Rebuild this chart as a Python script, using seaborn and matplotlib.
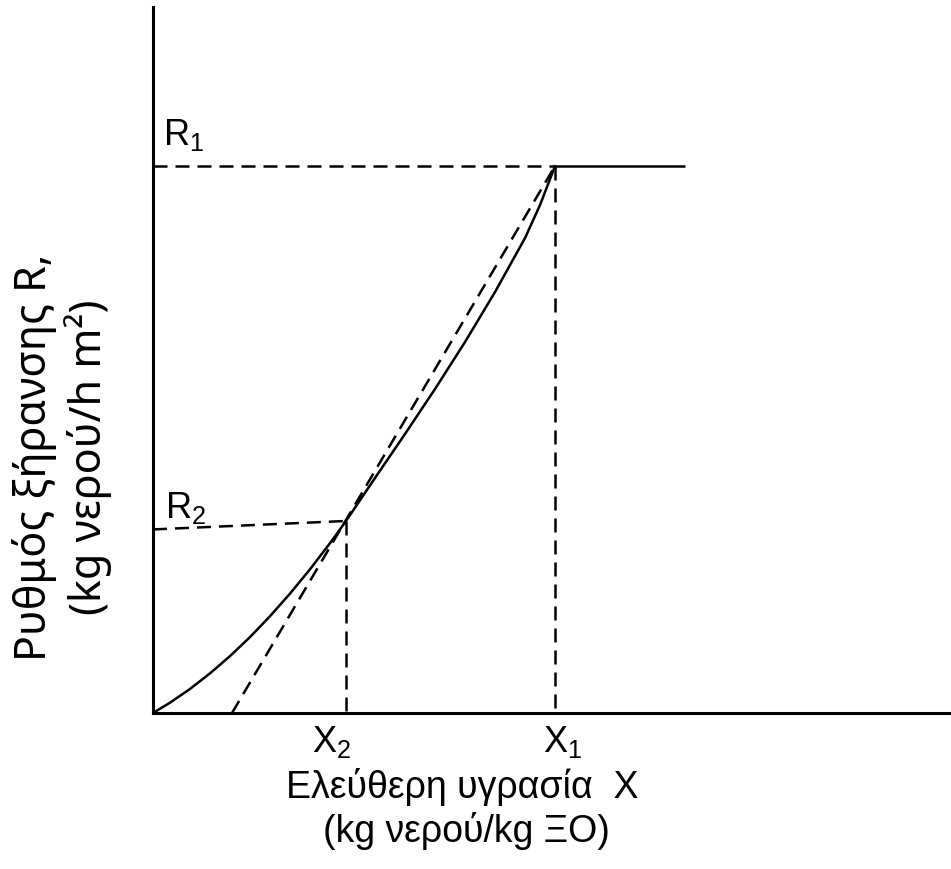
import matplotlib
matplotlib.use("Agg")
import matplotlib.pyplot as plt
import seaborn as sns
import pandas as pd

# ---- data (arbitrary units) ----
curve_x = [0.0, 0.213, 0.464, 0.714, 0.965, 1.216, 1.466, 1.717, 1.967, 2.218, 2.419,
           2.782, 3.158, 3.534, 3.910, 4.286, 4.662, 4.850, 5.038]
curve_y = [0.0, 0.146, 0.341, 0.561, 0.806, 1.076, 1.371, 1.691, 2.035, 2.405, 2.720,
           3.329, 3.952, 4.589, 5.255, 5.963, 6.728, 7.195, 7.748]
X1, X2 = 5.038, 2.419
R1, R2 = 7.748, 2.720
R2_left = 2.60          # left end of the R2 guide line
chord_x0 = 0.99         # x-intercept of the dashed chord
plateau_end = 6.67      # end of constant-rate segment
x_marks = ["X$_2$", "X$_1$"]
y_marks = ["R$_1$", "R$_2$"]

sns.set_style("white")
plt.rcParams["font.family"] = ["Liberation Sans", "DejaVu Sans"]
plt.rcParams["mathtext.fontset"] = "custom"
plt.rcParams["mathtext.rm"] = "Liberation Sans"
plt.rcParams["mathtext.it"] = "Liberation Sans"
plt.rcParams["text.color"] = "black"

W, H = 951, 870
fig = plt.figure(figsize=(W / 100, H / 100), dpi=100)
ax = fig.add_axes([153 / W, (H - 714) / H, (951 - 153) / W, 706 / H])
ax.set_xlim(0, 10)
ax.set_ylim(0, 10)

df = pd.DataFrame({"x": curve_x, "y": curve_y})
sns.lineplot(data=df, x="x", y="y", ax=ax, color="black", lw=1.8, sort=False)

dash = (5.6, 3.2)
lw = 1.8
ax.plot([X1, plateau_end], [R1, R1], color="black", lw=lw, solid_capstyle="butt")
ax.plot([0, X1], [R1, R1], color="black", lw=lw, dashes=dash)
ax.plot([X1, X1], [R1, 0], color="black", lw=lw, dashes=dash)
ax.plot([0, X2], [R2_left, R2], color="black", lw=lw, dashes=dash)
ax.plot([X2, X2], [R2, 0], color="black", lw=lw, dashes=dash)
ax.plot([chord_x0, X1], [0, R1], color="black", lw=lw, dashes=dash)

for s in ["top", "right"]:
    ax.spines[s].set_visible(False)
for s in ["left", "bottom"]:
    ax.spines[s].set_color("black")
    ax.spines[s].set_linewidth(2.2)

ax.set_xticks([])
ax.set_yticks([])
ax.set_xlabel("")
ax.set_ylabel("")

fs = 26
# X labels below the axis
ax.annotate(x_marks[0], xy=(X2, 0), xytext=(-34, -38), textcoords="offset pixels",
            ha="left", va="baseline", fontsize=fs)
ax.annotate(x_marks[1], xy=(X1, 0), xytext=(-12, -38), textcoords="offset pixels",
            ha="left", va="baseline", fontsize=fs)
# R labels next to the y axis
ax.annotate(y_marks[0], xy=(0, R1), xytext=(10, 22), textcoords="offset pixels",
            ha="left", va="baseline", fontsize=fs)
ax.annotate(y_marks[1], xy=(0, R2_left), xytext=(12, 12), textcoords="offset pixels",
            ha="left", va="baseline", fontsize=fs)

fig.text(462 / W, 1 - 798 / H, "Ελεύθερη υγρασία  X", fontsize=27, ha="center", va="baseline")
fig.text(466 / W, 1 - 842 / H, "(kg νερού/kg ΞΟ)", fontsize=27, ha="center", va="baseline")

fig.text(62 / W, 1 - 457 / H, "Ρυθμός ξήρανσης R,\n(kg νερού/h m²)", fontsize=31,
         ha="center", va="center", rotation=90, family=["Noto Sans", "DejaVu Sans"],
         multialignment="center", linespacing=1.2)

fig.savefig("out.png", dpi=100)
